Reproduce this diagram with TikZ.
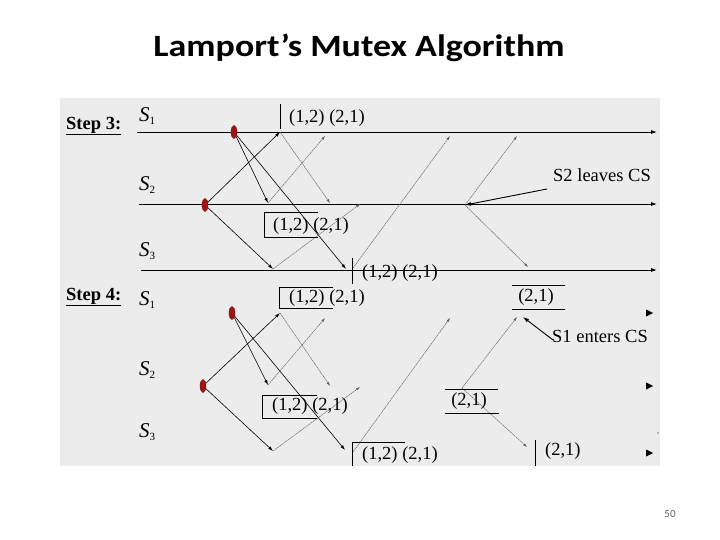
\documentclass[tikz,border=0pt]{standalone}
\usepackage{fontspec}
\setmainfont{Liberation Serif}
\newfontfamily\titlefont{Carlito}
\usetikzlibrary{arrows.meta,shapes.geometric}
\definecolor{panel}{HTML}{ECECEC}
\definecolor{dotred}{HTML}{A01414}
\definecolor{msg}{HTML}{606060}
\tikzset{
  lane/.style={line width=0.9pt,-{Latex[length=6pt,width=4pt]}},
  req/.style={line width=0.6pt,-{Latex[length=5pt,width=3.2pt]}},
  ack/.style={draw=msg,line width=0.45pt,dash pattern=on 2pt off 0.6pt,-{Latex[length=4pt,width=2.6pt]}},
  txt/.style={inner sep=0pt,font=\fontsize{18.5}{21}\selectfont},
  lbl/.style={inner sep=0pt,anchor=west,font=\fontsize{21}{23}\selectfont\itshape},
  steplbl/.style={inner sep=0pt,anchor=west,font=\fontsize{18.5}{21}\selectfont\bfseries},
  evt/.style={ellipse,draw=dotred!70!black,fill=dotred,minimum width=6pt,minimum height=13pt,inner sep=0pt},
  qline/.style={line width=0.8pt},
  tip/.style={fill=black}
}
\begin{document}
\begin{tikzpicture}[x=1pt,y=-1pt]
\useasboundingbox (0,0) rectangle (720,540);
\fill[panel] (60,98) rectangle (660,466);
\node[inner sep=0pt,font=\titlefont\fontsize{31}{34}\selectfont\bfseries] (title) at (359,48) {\scalebox{1.16}[1]{Lamport’s Mutex Algorithm}};
\node[inner sep=0pt,font=\titlefont\fontsize{11}{12}\selectfont,text=black!60] (pg) at (670,514) {50};

% ---------- Step 3 ----------
\node[steplbl] (st3) at (66,126) {\underline{Step 3:}};
\node[lbl] (l31) at (139,116) {S\raisebox{-0.35ex}{\fontsize{11}{12}\selectfont\upshape 1}};
\node[lbl] (l32) at (139,185) {S\raisebox{-0.35ex}{\fontsize{11}{12}\selectfont\upshape 2}};
\node[lbl] (l33) at (139,251) {S\raisebox{-0.35ex}{\fontsize{11}{12}\selectfont\upshape 3}};

\coordinate (s1a) at (137,132); \coordinate (s1b) at (657,132);
\coordinate (s2a) at (139,204); \coordinate (s2b) at (657,204);
\coordinate (s3a) at (141,270); \coordinate (s3b) at (657,270);
\draw[lane] (s1a) -- (s1b);
\draw[lane] (s2a) -- (s2b);
\draw[lane] (s3a) -- (s3b);

\coordinate (a1) at (280,132);
\coordinate (a2) at (273,269);
\coordinate (b1) at (268,203);
\coordinate (b2) at (346,269);
\coordinate (c1) at (325,136);
\coordinate (c2) at (330,203);
\coordinate (c3) at (360,204);
\coordinate (c4s) at (353,268);
\coordinate (c4) at (450,136);
\coordinate (h3) at (465,205);
\coordinate (c5) at (517,136);
\coordinate (c6) at (528,267);

\node[evt] (d1) at (234,132) {};
\node[evt] (d2) at (205,205) {};
\draw[req] (d2) -- (a1);
\draw[req] (d2) -- (a2);
\draw[req] (d1) -- (b1);
\draw[req] (d1) -- (b2);
\draw[ack] (b1) -- (c1);
\draw[ack] (a1) -- (c2);
\draw[ack] (a2) -- (c3);
\draw[ack] (c4s) -- (c4);
\draw[ack] (h3) -- (c5);
\draw[ack] (h3) -- (c6);

\node[txt,anchor=west] (leave) at (553,175) {S2 leaves CS};
\coordinate (leavefrom) at (547,189);
\draw[line width=0.9pt,-{Latex[length=6pt,width=4pt]}] (leavefrom) -- (h3);

% queue at S1
\coordinate (t1a) at (280,104); \coordinate (t1b) at (280,129);
\draw[qline] (t1a) -- (t1b);
\node[txt,anchor=west] (q31) at (289,118) {(1,2) (2,1)};
% queue at S2
\draw[qline] (318,212) -- (264,212) -- (264,237) -- (318,237);
\node[txt,anchor=west] (q32) at (273,226) {(1,2) (2,1)};
% queue at S3
\coordinate (t3a) at (352,258); \coordinate (t3b) at (352,284);
\draw[qline] (t3a) -- (t3b);
\node[txt,anchor=west] (q33) at (362,273) {(1,2) (2,1)};

% ---------- Step 4 ----------
\node[steplbl] (st4) at (66,297) {\underline{Step 4:}};
\node[lbl] (l41) at (139,300) {S\raisebox{-0.35ex}{\fontsize{11}{12}\selectfont\upshape 1}};
\node[lbl] (l42) at (139,370) {S\raisebox{-0.35ex}{\fontsize{11}{12}\selectfont\upshape 2}};
\node[lbl] (l43) at (139,432) {S\raisebox{-0.35ex}{\fontsize{11}{12}\selectfont\upshape 3}};

\fill[tip] (646,309.5) -- (653,313) -- (646,316.5) -- cycle;
\fill[tip] (646,382.5) -- (653,386) -- (646,389.5) -- cycle;
\fill[tip] (646,449.5) -- (653,453) -- (646,456.5) -- cycle;
\fill (658,433) circle (0.7);

\coordinate (f1) at (280,313);
\coordinate (f2) at (273,451);
\coordinate (g1) at (268,385);
\coordinate (g2) at (345,450);
\coordinate (k1) at (325,318);
\coordinate (k2) at (330,386);
\coordinate (k3) at (360,387);
\coordinate (k4s) at (353,452);
\coordinate (k4) at (450,318);
\coordinate (h4) at (462,388);
\coordinate (k5) at (517,317);
\coordinate (k6) at (527,447);

\node[evt] (e1) at (232,313) {};
\node[evt] (e2) at (203,386) {};
\draw[req] (e2) -- (f1);
\draw[req] (e2) -- (f2);
\draw[req] (e1) -- (g1);
\draw[req] (e1) -- (g2);
\draw[ack] (g1) -- (k1);
\draw[ack] (f1) -- (k2);
\draw[ack] (f2) -- (k3);
\draw[ack] (k4s) -- (k4);
\draw[ack] (h4) -- (k5);
\draw[ack] (h4) -- (k6);

% queues
\draw[qline] (333,287) -- (279,287) -- (279,308) -- (333,308);
\node[txt,anchor=west] (q41) at (289,298) {(1,2) (2,1)};
\draw[qline] (317,395) -- (262,395) -- (262,418) -- (317,418);
\node[txt,anchor=west] (q42) at (272,406) {(1,2) (2,1)};
\draw[qline] (405,442) -- (352,442) -- (352,466);
\node[txt,anchor=west] (q43) at (362,455) {(1,2) (2,1)};

\draw[qline] (445,389) -- (498,389);
\draw[qline] (445,413) -- (499,413);
\node[txt] (q44) at (469,401) {(2,1)};

\draw[qline] (512,285) -- (565,285);
\draw[qline] (512,309) -- (565,309);
\node[txt] (q45) at (536,297) {(2,1)};

\coordinate (t5a) at (535,440); \coordinate (t5b) at (535,466);
\draw[qline] (t5a) -- (t5b);
\node[txt,anchor=west] (q46) at (545,451) {(2,1)};

\node[txt,anchor=west] (enter) at (552,336) {S1 enters CS};
\coordinate (enterfrom) at (553,340);
\coordinate (enterto) at (523,317);
\draw[line width=0.9pt,-{Latex[length=6pt,width=4pt]}] (enterfrom) -- (enterto);
\end{tikzpicture}
\end{document}
